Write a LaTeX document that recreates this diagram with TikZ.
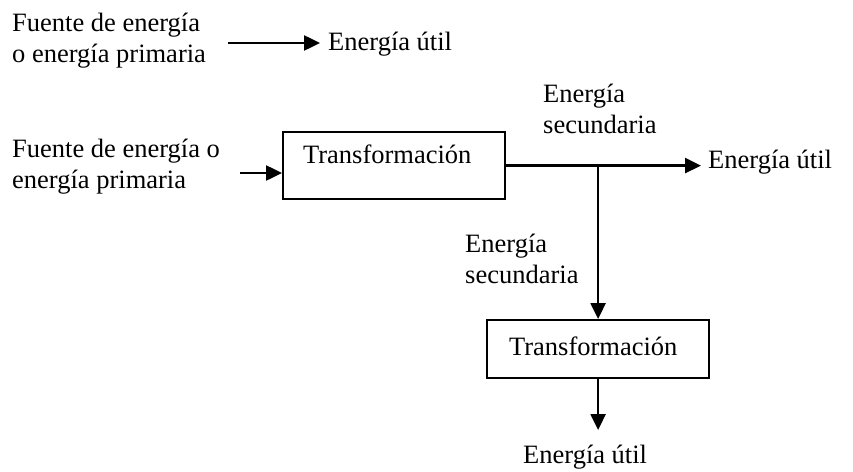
\documentclass[tikz,border=0pt]{standalone}
\usepackage{fontspec}
\setmainfont{Liberation Serif}
\usetikzlibrary{arrows.meta}
\begin{document}
\begin{tikzpicture}[x=1pt,y=-1pt,
  every node/.style={font=\fontsize{26.5}{30.5}\selectfont},
  lbl/.style={anchor=base west,inner sep=0pt,align=left},
  tbox/.style={draw,line width=2.2pt,inner ysep=0pt,inner xsep=0pt,text width=222pt,align=left},
  conn/.style={line width=2.5pt,-{Triangle[length=16pt,width=15pt]}}]
\useasboundingbox (0,0) rectangle (853,471);
% top row
\node[lbl] (src1) at (12,62) {Fuente de energía\\o energía primaria};
\node[lbl,inner xsep=8pt] (u1) at (320,50) {Energía útil};
\coordinate (a0) at (228,43);
\draw[conn] (a0) -- (a0 -| u1.west);
% main chain
\node[lbl] (src2) at (12,188) {Fuente de energía o\\energía primaria};
\node[tbox,anchor=north west,text height=31pt,text depth=36pt] (t1) at (282,131) {\hspace*{20pt}Transformación};
\coordinate (a1) at (240,173);
\draw[conn] (a1) -- (a1 -| t1.west);
\node[lbl] (s1) at (543,133) {Energía\\secundaria};
\node[lbl,inner xsep=7pt] (u2) at (701,168) {Energía útil};
\draw[conn] (t1.east) -- (t1.east -| u2.west);
\node[tbox,anchor=north west,text height=35pt,text depth=23pt] (t2) at (486,319) {\hspace*{22pt}Transformación};
\coordinate (j) at (t2.north |- t1.east);
\draw[conn] (j) -- (t2.north);
\node[lbl] (s2) at (465,283) {Energía\\secundaria};
\node[lbl] (u3) at (523,463) {Energía útil};
\coordinate (b3) at (t2.south |- 0,430);
\draw[conn] (t2.south) -- (b3);
\end{tikzpicture}
\end{document}
